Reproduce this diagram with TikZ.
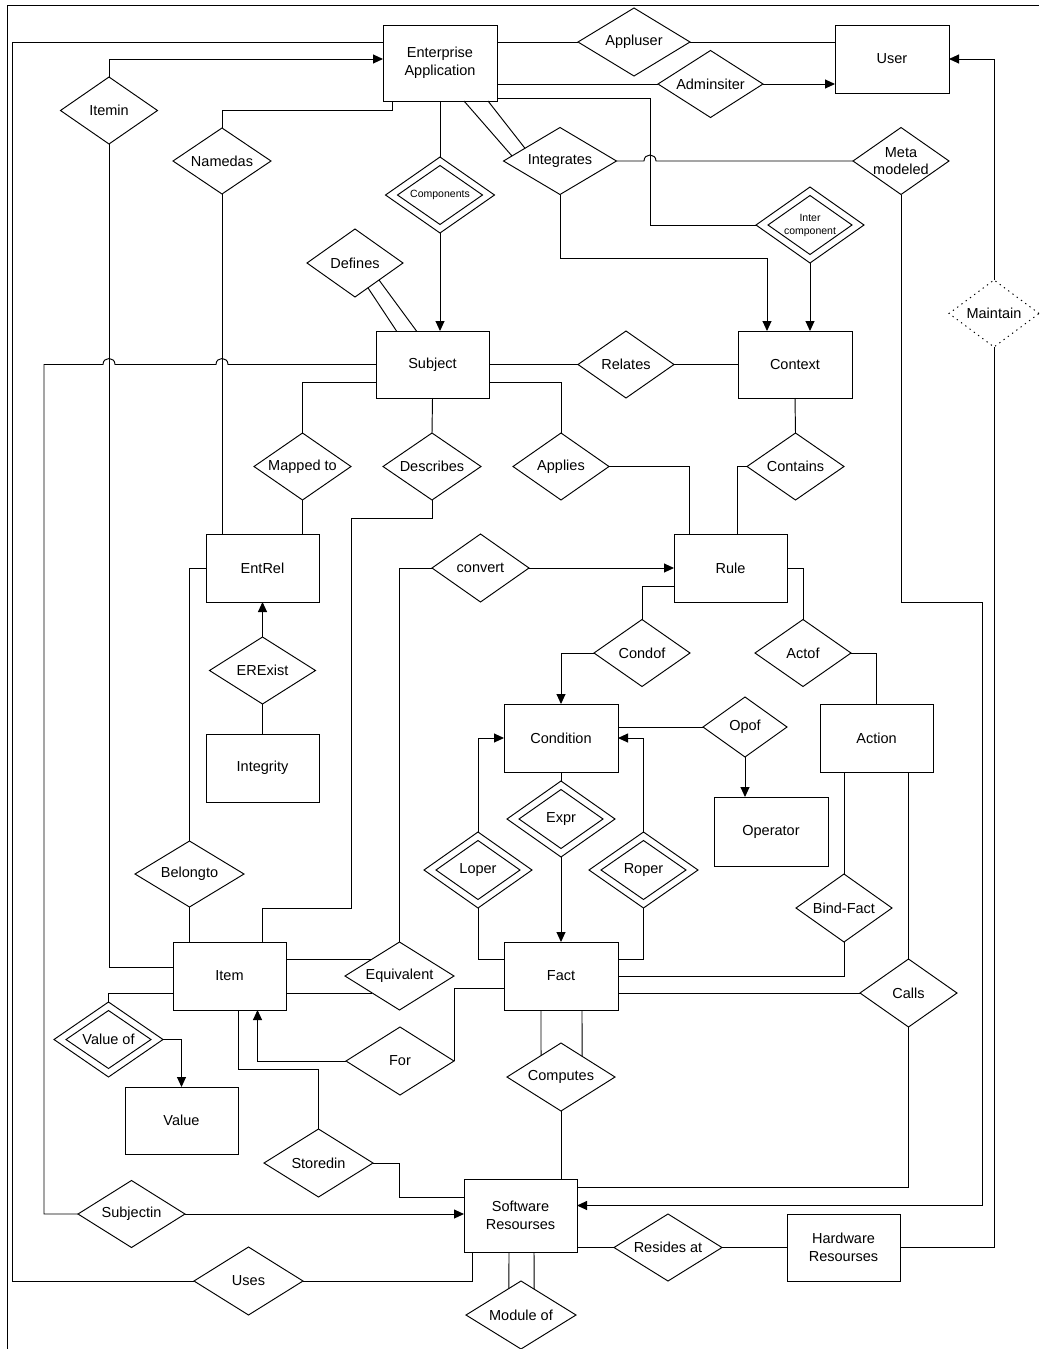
\documentclass[tikz,border=0pt]{standalone}
\usepackage{fontspec}
\setmainfont{Liberation Sans}
\usetikzlibrary{shapes.geometric,arrows.meta,calc}
\newcommand\rsnorm{\fontsize{14.5}{17.5}\selectfont}
\newcommand\rssmall{\fontsize{10.5}{13}\selectfont}
\begin{document}
\begin{tikzpicture}[x=1pt,y=-1pt,line width=0.95pt,
  ent/.style={draw,rectangle,minimum width=113pt,minimum height=68pt,inner sep=0pt,outer sep=0pt,align=center,font=\rsnorm},
  rel/.style={draw,diamond,aspect=1.45,inner sep=-8pt,outer sep=0pt,align=center,font=\rsnorm},
  arr/.style={-{Triangle[length=10pt,width=9pt]}},
  dotline/.style={dash pattern=on 1.3pt off 4pt},
]
\useasboundingbox (0,0) rectangle (1039,1349);
% frame
\draw (7,1349) -- (7,5) -- (1039,5);

% ---------- entities ----------
\node[ent,minimum width=114pt,minimum height=76pt] (ea) at (440,63) {Enterprise\\Application};
\node[ent,minimum width=114pt] (user) at (892,59) {User};
\node[ent,minimum height=67pt] (subject) at (432.5,364.5) {Subject};
\node[ent,minimum width=114pt,minimum height=67pt] (context) at (795,364.5) {Context};
\node[ent] (rule) at (730.5,568) {Rule};
\node[ent] (entrel) at (262.5,568) {EntRel};
\node[ent] (integrity) at (262.5,768) {Integrity};
\node[ent,minimum width=114pt] (condition) at (561,738) {Condition};
\node[ent] (action) at (876.5,738) {Action};
\node[ent,minimum width=114pt,minimum height=69pt] (operator) at (771,831.5) {Operator};
\node[ent,minimum width=114pt] (fact) at (561,976) {Fact};
\node[ent] (item) at (229.5,976) {Item};
\node[ent,minimum height=67pt] (value) at (181.5,1120.5) {Value};
\node[ent,minimum height=73pt] (software) at (520.5,1215.5) {Software\\Resourses};
\node[ent,minimum height=67pt] (hardware) at (843.5,1247.5) {Hardware\\Resourses};

% ---------- relationships ----------
\node[rel,minimum width=112pt,minimum height=68pt] (appl) at (634,42) {Appluser};
\node[rel,minimum width=105pt,minimum height=67pt] (admin) at (710.5,84) {Adminsiter};
\node[rel,minimum width=97pt,minimum height=67pt] (itemin) at (109,110.5) {Itemin};
\node[rel,minimum width=98pt,minimum height=66pt] (namedas) at (222,161) {Namedas};
\node[rel,minimum width=109pt,minimum height=76pt,font=\rssmall] (comps) at (440,195) {Components};
\node[rel,minimum width=85pt,minimum height=59pt] (comps-in) at (440,195) {};
\node[rel,minimum width=113pt,minimum height=67pt] (integ) at (560,161) {Integrates};
\node[rel,minimum width=96pt,minimum height=67pt] (meta) at (901,161) {Meta\\modeled};
\node[rel,minimum width=108pt,minimum height=76pt,font=\rssmall] (inter) at (810,225) {Inter\\component};
\node[rel,minimum width=84pt,minimum height=59pt] (inter-in) at (810,225) {};
\node[rel,dotline,minimum width=90pt,minimum height=67pt] (maintain) at (994,313.5) {Maintain};
\node[rel,minimum width=96pt,minimum height=68pt] (defines) at (355,263) {Defines};
\node[rel,minimum width=96pt,minimum height=67pt] (relates) at (626,364.5) {Relates};
\node[rel,minimum width=97pt,minimum height=67pt] (mapped) at (302.5,466.5) {Mapped to};
\node[rel,minimum width=98pt,minimum height=67pt] (describes) at (432,466.5) {Describes};
\node[rel,minimum width=96pt,minimum height=67pt] (applies) at (561,466.5) {Applies};
\node[rel,minimum width=97pt,minimum height=67pt] (contains) at (795.5,466.5) {Contains};
\node[rel,minimum width=97pt,minimum height=68pt] (convert) at (480.5,568) {convert};
\node[rel,minimum width=96pt,minimum height=67pt] (condof) at (642,653) {Condof};
\node[rel,minimum width=96pt,minimum height=67pt] (actof) at (803,653) {Actof};
\node[rel,minimum width=106pt,minimum height=67pt] (erexist) at (262.5,670.5) {ERExist};
\node[rel,minimum width=84pt,minimum height=60pt] (opof) at (745,727) {Opof};
\node[rel,minimum width=108pt,minimum height=76pt] (expr) at (561,819) {Expr};
\node[rel,minimum width=84pt,minimum height=59pt] (expr-in) at (561,819) {};
\node[rel,minimum width=108pt,minimum height=76pt] (loper) at (478,870) {Loper};
\node[rel,minimum width=84pt,minimum height=59pt] (loper-in) at (478,870) {};
\node[rel,minimum width=109pt,minimum height=76pt] (roper) at (643.5,870) {Roper};
\node[rel,minimum width=85pt,minimum height=59pt] (roper-in) at (643.5,870) {};
\node[rel,minimum width=96pt,minimum height=68pt] (bindfact) at (844,908) {Bind-Fact};
\node[rel,minimum width=97pt,minimum height=68pt] (calls) at (908.5,993) {Calls};
\node[rel,minimum width=109pt,minimum height=66pt] (belongto) at (189.5,874) {Belongto};
\node[rel,minimum width=109pt,minimum height=68pt] (equiv) at (399.5,976) {Equivalent};
\node[rel,minimum width=108pt,minimum height=68pt] (for) at (400,1061) {For};
\node[rel,minimum width=108pt,minimum height=68pt] (computes) at (561,1077) {Computes};
\node[rel,minimum width=109pt,minimum height=75pt] (valueof) at (108.5,1039.5) {Value of};
\node[rel,minimum width=85pt,minimum height=58pt] (valueof-in) at (108.5,1039.5) {};
\node[rel,minimum width=109pt,minimum height=68pt] (storedin) at (318.5,1163) {Storedin};
\node[rel,minimum width=107pt,minimum height=67pt] (subjectin) at (131.5,1214) {Subjectin};
\node[rel,minimum width=109pt,minimum height=68pt] (uses) at (248.5,1281) {Uses};
\node[rel,minimum width=108pt,minimum height=67pt] (resides) at (668,1247.5) {Resides at};
\node[rel,minimum width=110pt,minimum height=68pt] (moduleof) at (521,1315) {Module of};

% ---------- helper coordinates ----------
\coordinate (u1) at (12,42);
\coordinate (nb1) at (392,110);
\coordinate (ib1) at (767,258);
\coordinate (jx) at (650,225);
\coordinate (m1) at (982,602);
\coordinate (d1) at (351,518);
\coordinate (d2) at (262,908);
\coordinate (s1) at (238,1069);
\coordinate (s2) at (399,1197);

% ---------- connectors ----------
% Enterprise Application / User
\draw (ea.east |- appl.west) -- (appl.west);
\draw (appl.east) -- (user.west |- appl.east);
\draw (ea.east |- admin.west) -- (admin.west);
\draw[arr] (admin.east) -- (user.west |- admin.east);
\draw[arr] (itemin.north) |- ([yshift=4pt]ea.west);
\draw (itemin.south) |- ([yshift=9pt]item.west);
\draw (namedas.north) |- (nb1) -- (nb1 |- ea.south);
\draw (namedas.south) -- (namedas.south |- entrel.north);
\draw (ea.south) -- (comps.north);
\draw[arr] (comps.south) -- (comps.south |- subject.north);
\draw ([xshift=24pt]ea.south) -- ($(integ.west)!0.15!(integ.north)$);
\draw ([xshift=48pt]ea.south) -- ($(integ.west)!0.38!(integ.north)$);
\draw (integ.east) -- (644,161) .. controls (644,153) and (656,153) .. (656,161) -- (meta.west);
\draw[arr] (integ.south) |- (ib1) -- (ib1 |- context.north);
\draw ([yshift=-35pt]ea.east) -| (jx) -- (inter.west);
\draw[arr] (inter.south) -- (inter.south |- context.north);
\draw[arr] (meta.south) |- (m1) |- ([yshift=10pt]software.east);
\draw[arr] (maintain.north) |- (user.east);
\draw (maintain.south) |- (hardware.east);
\draw (uses.west) -| (u1) -- (ea.west |- u1);
\draw (uses.east) -| ([xshift=-48pt]software.south);

% Subject area
\draw ($(defines.east)!0.73!(defines.south)$) -- ([xshift=-36pt]subject.north);
\draw ($(defines.east)!0.5!(defines.south)$) -- ([xshift=-16pt]subject.north);
\draw (subject.east) -- (relates.west);
\draw (relates.east) -- (context.west);
\draw ([yshift=-18pt]subject.east) -| (applies.north);
\draw (applies.east) -| ([xshift=-41pt]rule.north);
\draw (context.south) -- (contains.north);
\draw (contains.west) -| ([xshift=7pt]rule.north);
\draw ([yshift=-18pt]subject.west) -| (mapped.north);
\draw (mapped.south) -- (mapped.south |- entrel.north);
\draw (subject.south) -- (describes.north);
\draw (describes.south) |- (d1) |- (d2) -- (d2 |- item.north);
\draw (subjectin.west) -| (44,364.5) -- (103,364.5) .. controls (103,356.5) and (115,356.5) .. (115,364.5)
      -- (216,364.5) .. controls (216,356.5) and (228,356.5) .. (228,364.5) -- (subject.west);
\draw[arr] (subjectin.east) -- (software.west |- subjectin.east);

% EntRel area
\draw (belongto.north) |- (entrel.west);
\draw (belongto.south) -- (belongto.south |- item.north);
\draw[arr] (erexist.north) -- (entrel.south);
\draw (erexist.south) -- (integrity.north);

% Rule area
\draw[arr] (convert.east) -- (rule.west);
\draw (convert.west) -| (equiv.north);
\draw ([yshift=-18pt]rule.west) -| (condof.north);
\draw[arr] (condof.west) -| (condition.north);
\draw (rule.east) -| (actof.north);
\draw (actof.east) -| (action.north);
\draw ([yshift=11pt]condition.east) -- (opof.west);
\draw[arr] (opof.south) -- (opof.south |- operator.north);
\draw (condition.south) -- (expr.north);
\draw[arr] (expr.south) -- (fact.north);
\draw[arr] (loper.north) |- (condition.west);
\draw (loper.south) |- ([yshift=17pt]fact.west);
\draw[arr] (roper.north) |- (condition.east);
\draw (roper.south) |- ([yshift=17pt]fact.east);
\draw (action.south -| bindfact.north) -- (bindfact.north);
\draw (bindfact.south) |- (fact.east);
\draw (action.south -| calls.north) -- (calls.north);
\draw (calls.west) -- (fact.east |- calls.west);
\draw (calls.south) |- ([yshift=28pt]software.east);

% Item / Fact area
\draw ([yshift=17pt]item.east) -- ($(equiv.west)!0.5!(equiv.north)$);
\draw ([yshift=-17pt]item.east) -- ($(equiv.west)!0.5!(equiv.south)$);
\draw ([yshift=-12pt]fact.west) -| (for.east);
\draw[arr] (for.west) -| ([xshift=28pt]item.south);
\draw ([xshift=-20pt]fact.south) -- ($(computes.west)!0.63!(computes.north)$);
\draw ([xshift=21pt]fact.south) -- ($(computes.north)!0.39!(computes.east)$);
\draw (computes.south) -- (computes.south |- software.north);
\draw (valueof.north) |- ([yshift=-17pt]item.west);
\draw[arr] (valueof.east) -| (value.north);
\draw (storedin.north) |- (s1) -- (s1 |- item.south);
\draw (storedin.east) -| (s2) -- (software.west |- s2);

% Software area
\draw (resides.west) -- (software.east |- resides.west);
\draw (resides.east) -- (hardware.west);
\draw ([xshift=-11.5pt]software.south) -- ($(moduleof.west)!0.78!(moduleof.north)$);
\draw ([xshift=13.5pt]software.south) -- ($(moduleof.north)!0.24!(moduleof.east)$);
\end{tikzpicture}
\end{document}
